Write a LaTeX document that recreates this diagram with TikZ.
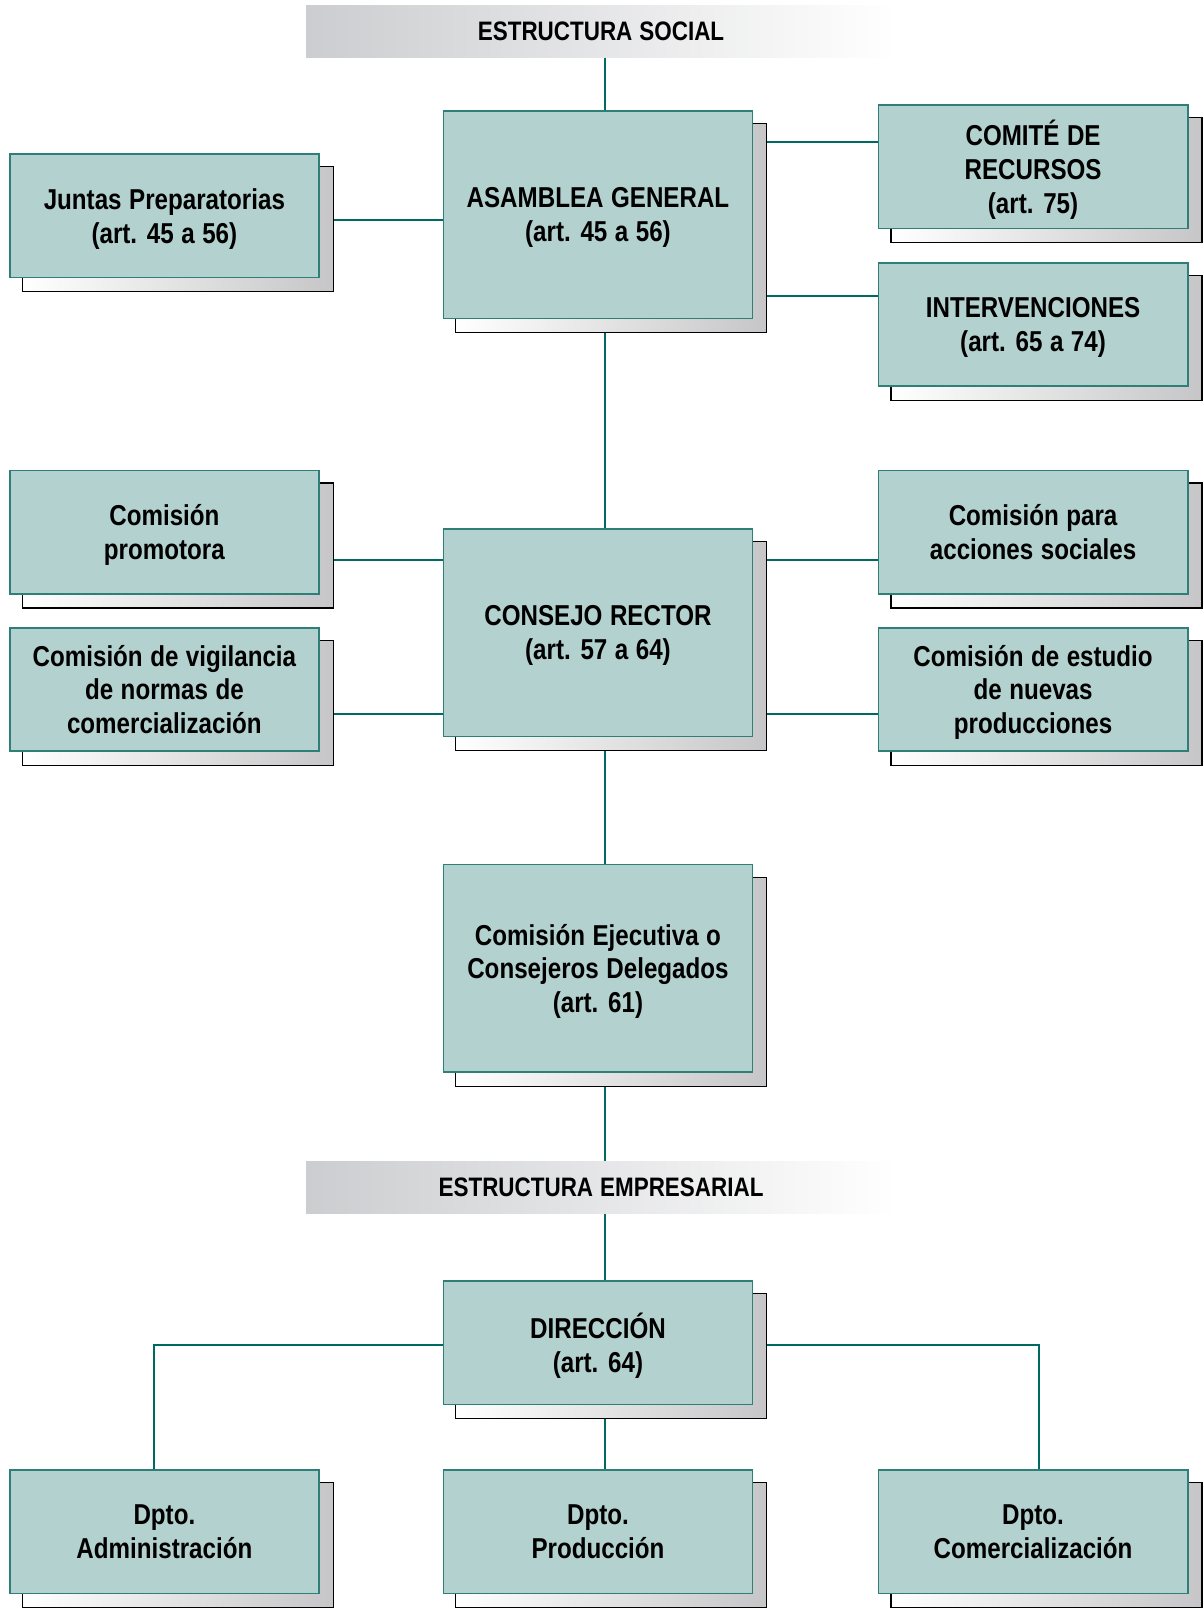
\documentclass[tikz,border=0pt]{standalone}
\usepackage{fontspec}
\newfontfamily\cond[FakeStretch=0.84,WordSpace=1.12]{Liberation Sans}
\usetikzlibrary{calc}
\definecolor{boxfill}{HTML}{B3D1CE}
\definecolor{boxline}{HTML}{2E7F78}
\definecolor{conncol}{HTML}{006A62}
\definecolor{hdrgray}{RGB}{204,205,208}
\definecolor{shdgray}{RGB}{198,198,200}
\pgfdeclarelayer{bg}\pgfdeclarelayer{shd}\pgfsetlayers{bg,shd,main}
\begin{document}
\begin{tikzpicture}[x=0.5pt,y=-0.5pt,
  txt/.style={font=\cond\bfseries\fontsize{14}{16.5}\selectfont, text=black},
  orgbox/.style={txt, draw=boxline, line width=0.8pt, fill=boxfill, minimum width=150.5pt, minimum height=60pt, align=center, inner sep=2pt, text depth=0pt},
  bigbox/.style={orgbox, minimum height=101pt},
  header/.style={font=\cond\bfseries\fontsize{13}{16}\selectfont, text=black, left color=hdrgray, right color=white, draw=none, minimum width=287pt, minimum height=25.5pt, inner sep=0pt},
  conn/.style={draw=conncol, line width=1.1pt},
  shadowbox/.style={draw=black, line width=0.6pt, left color=white, right color=shdgray}]
\useasboundingbox (0,0) rectangle (1171,1568);

\node[header] (hdr1) at (585,30.5) {ESTRUCTURA SOCIAL};
\node[bigbox] (ag) at (582,209) {ASAMBLEA GENERAL\\(art. 45 a 56)};
\node[orgbox] (jp) at (160,210) {Juntas Preparatorias\\(art. 45 a 56)};
\node[orgbox] (cr) at (1005.5,162.5) {COMITÉ DE\\RECURSOS\\(art. 75)};
\node[orgbox] (iv) at (1005.5,316) {INTERVENCIONES\\(art. 65 a 74)};
\node[bigbox] (cons) at (582,616) {CONSEJO RECTOR\\(art. 57 a 64)};
\node[orgbox] (cprom) at (160,518) {Comisión\\promotora};
\node[orgbox] (cvig) at (160,671) {Comisión de vigilancia\\de normas de\\comercialización};
\node[orgbox] (cacc) at (1005.5,518) {Comisión para\\acciones sociales};
\node[orgbox] (cest) at (1005.5,671) {Comisión de estudio\\de nuevas\\producciones};
\node[bigbox] (cej) at (582,942.5) {Comisión Ejecutiva o\\Consejeros Delegados\\(art. 61)};
\node[header] (hdr2) at (585,1155.5) {ESTRUCTURA EMPRESARIAL};
\node[orgbox] (dir) at (582,1307) {DIRECCIÓN\\(art. 64)};
\node[orgbox] (dadm) at (160,1491) {Dpto.\\Administración};
\node[orgbox] (dprod) at (582,1491) {Dpto.\\Producción};
\node[orgbox] (dcom) at (1005.5,1491) {Dpto.\\Comercialización};

\begin{pgfonlayer}{shd}
\foreach \n in {ag,jp,cr,iv,cons,cprom,cvig,cacc,cest,cej,dir,dadm,dprod,dcom}
  \path[shadowbox] ([xshift=6.5pt,yshift=-6.5pt]\n.south west) rectangle ([xshift=6.5pt,yshift=-6.5pt]\n.north east);
\end{pgfonlayer}

\begin{pgfonlayer}{bg}
\coordinate (tx) at (589,0);
\coordinate (ya) at (0,214);
\coordinate (yb) at (0,138);
\coordinate (yc) at (0,288);
\coordinate (yd) at (0,545);
\coordinate (ye) at (0,695);
\coordinate (yf) at (0,1309);
\coordinate (xl) at (150,0);
\coordinate (xr) at (1011,0);
\draw[conn] (tx |- hdr1.center) -- (tx |- ag.center);
\draw[conn] (tx |- ag.center) -- (tx |- cons.center);
\draw[conn] (tx |- cons.center) -- (tx |- cej.center);
\draw[conn] (tx |- cej.center) -- (tx |- hdr2.center);
\draw[conn] (tx |- hdr2.center) -- (tx |- dir.center);
\draw[conn] (tx |- dir.center) -- (tx |- dprod.center);
\draw[conn] (jp.center |- ya) -- (ag.center |- ya);
\draw[conn] (ag.center |- yb) -- (cr.center |- yb);
\draw[conn] (ag.center |- yc) -- (iv.center |- yc);
\draw[conn] (cprom.center |- yd) -- (cons.center |- yd);
\draw[conn] (cons.center |- yd) -- (cacc.center |- yd);
\draw[conn] (cvig.center |- ye) -- (cons.center |- ye);
\draw[conn] (cons.center |- ye) -- (cest.center |- ye);
\draw[conn] (dir.center |- yf) -- (xl |- yf) -- (xl |- dadm.center);
\draw[conn] (dir.center |- yf) -- (xr |- yf) -- (xr |- dcom.center);
\end{pgfonlayer}
\end{tikzpicture}
\end{document}
